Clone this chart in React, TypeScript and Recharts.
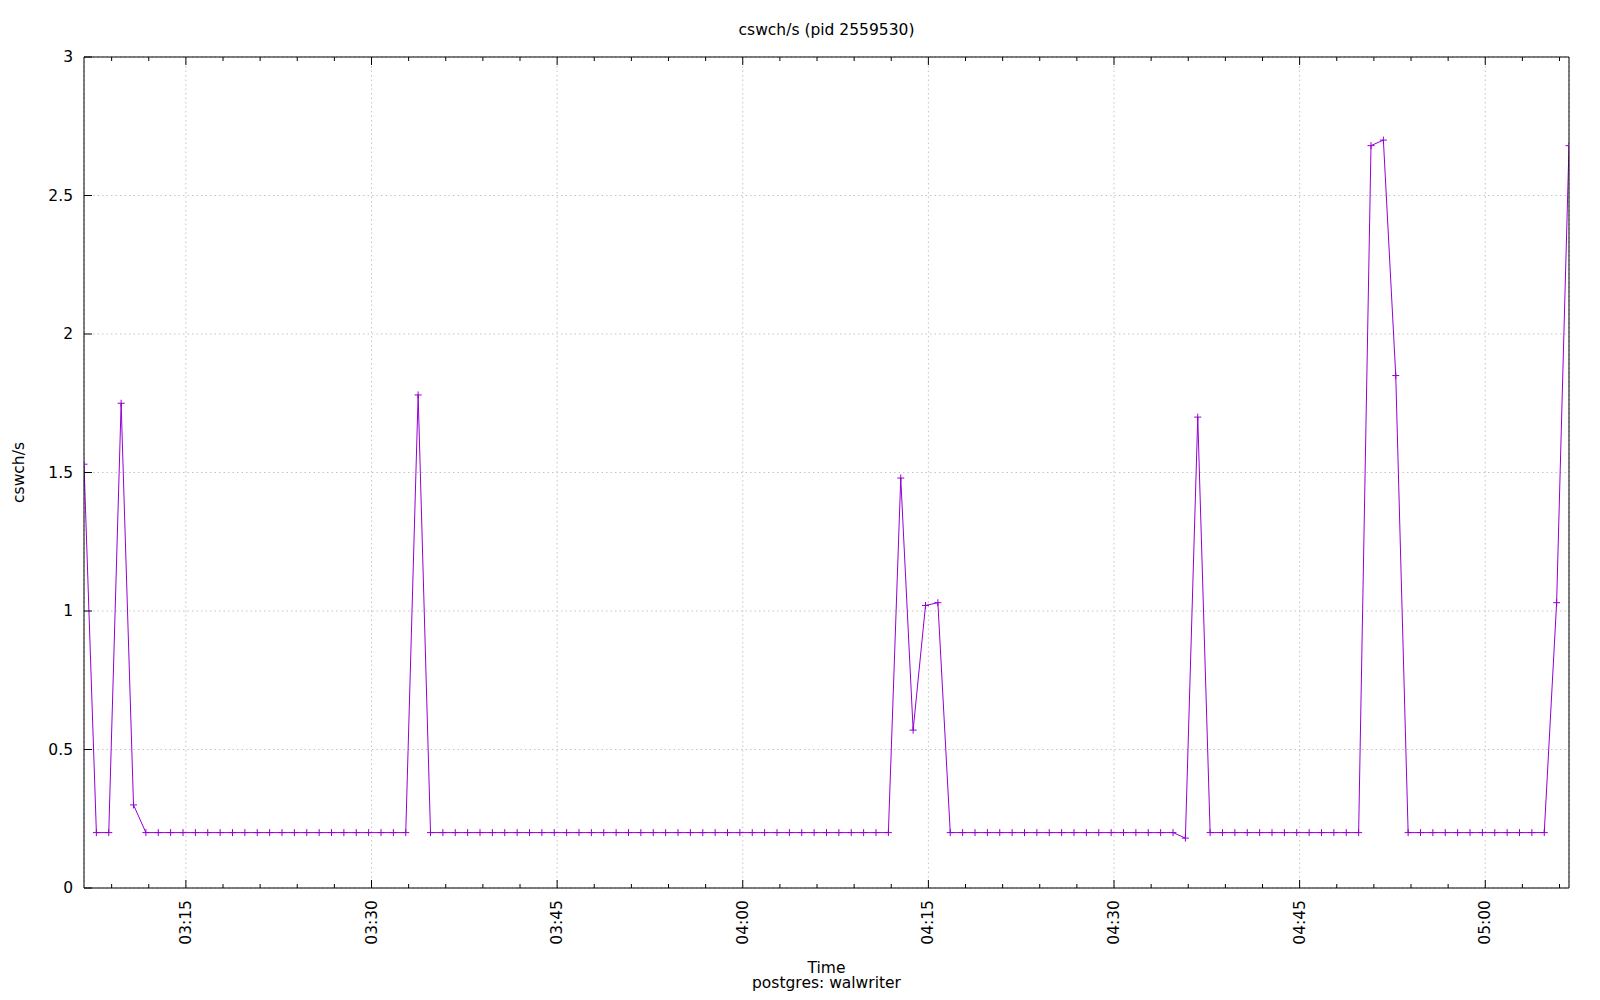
import React from 'react';
import { LineChart, Line, XAxis, YAxis, CartesianGrid } from 'recharts';

// sampling times (sar, one per minute)
const times = [
  '03:06:46', '03:07:46', '03:08:46', '03:09:46', '03:10:46', '03:11:46', '03:12:46', '03:13:46', '03:14:46', '03:15:46',
  '03:16:46', '03:17:46', '03:18:46', '03:19:46', '03:20:46', '03:21:46', '03:22:46', '03:23:46', '03:24:46', '03:25:46',
  '03:26:46', '03:27:46', '03:28:46', '03:29:46', '03:30:46', '03:31:46', '03:32:46', '03:33:46', '03:34:46', '03:35:46',
  '03:36:46', '03:37:46', '03:38:46', '03:39:46', '03:40:46', '03:41:46', '03:42:46', '03:43:46', '03:44:46', '03:45:46',
  '03:46:46', '03:47:46', '03:48:46', '03:49:46', '03:50:46', '03:51:46', '03:52:46', '03:53:46', '03:54:46', '03:55:46',
  '03:56:46', '03:57:46', '03:58:46', '03:59:46', '04:00:46', '04:01:46', '04:02:46', '04:03:46', '04:04:46', '04:05:46',
  '04:06:46', '04:07:46', '04:08:46', '04:09:46', '04:10:46', '04:11:46', '04:12:46', '04:13:46', '04:14:46', '04:15:46',
  '04:16:46', '04:17:46', '04:18:46', '04:19:46', '04:20:46', '04:21:46', '04:22:46', '04:23:46', '04:24:46', '04:25:46',
  '04:26:46', '04:27:46', '04:28:46', '04:29:46', '04:30:46', '04:31:46', '04:32:46', '04:33:46', '04:34:46', '04:35:46',
  '04:36:46', '04:37:46', '04:38:46', '04:39:46', '04:40:46', '04:41:46', '04:42:46', '04:43:46', '04:44:46', '04:45:46',
  '04:46:46', '04:47:46', '04:48:46', '04:49:46', '04:50:46', '04:51:46', '04:52:46', '04:53:46', '04:54:46', '04:55:46',
  '04:56:46', '04:57:46', '04:58:46', '04:59:46', '05:00:46', '05:01:46', '05:02:46', '05:03:46', '05:04:46', '05:05:46',
  '05:06:46',
];

const cswch = [
  1.53, 0.2, 0.2, 1.75, 0.3, 0.2, 0.2, 0.2, 0.2, 0.2,
  0.2, 0.2, 0.2, 0.2, 0.2, 0.2, 0.2, 0.2, 0.2, 0.2,
  0.2, 0.2, 0.2, 0.2, 0.2, 0.2, 0.2, 1.78, 0.2, 0.2,
  0.2, 0.2, 0.2, 0.2, 0.2, 0.2, 0.2, 0.2, 0.2, 0.2,
  0.2, 0.2, 0.2, 0.2, 0.2, 0.2, 0.2, 0.2, 0.2, 0.2,
  0.2, 0.2, 0.2, 0.2, 0.2, 0.2, 0.2, 0.2, 0.2, 0.2,
  0.2, 0.2, 0.2, 0.2, 0.2, 0.2, 1.48, 0.57, 1.02, 1.03,
  0.2, 0.2, 0.2, 0.2, 0.2, 0.2, 0.2, 0.2, 0.2, 0.2,
  0.2, 0.2, 0.2, 0.2, 0.2, 0.2, 0.2, 0.2, 0.2, 0.18,
  1.7, 0.2, 0.2, 0.2, 0.2, 0.2, 0.2, 0.2, 0.2, 0.2,
  0.2, 0.2, 0.2, 0.2, 2.68, 2.7, 1.85, 0.2, 0.2, 0.2,
  0.2, 0.2, 0.2, 0.2, 0.2, 0.2, 0.2, 0.2, 0.2, 1.03,
  2.68,
];

// x ticks in minutes after 03:00 (every 3 min, labelled every 15)
const xTicks = [
  9, 12, 15, 18, 21, 24, 27, 30, 33, 36, 39, 42, 45, 48, 51, 54, 57, 60, 63, 66,
  69, 72, 75, 78, 81, 84, 87, 90, 93, 96, 99, 102, 105, 108, 111, 114, 117, 120, 123, 126,
];
const majorTicks = [15, 30, 45, 60, 75, 90, 105, 120];
const yTicks = [0, 0.5, 1, 1.5, 2, 2.5, 3];

const FONT = 'DejaVu Sans';
const FS = 15.5;
const PURPLE = '#9400d3';

const toMinutes = (t: string) => {
  const [h, m, s] = t.split(':').map(Number);
  return (h - 3) * 60 + m + s / 60;
};

const data = times.map((t, i) => ({ t: toMinutes(t), v: cswch[i] }));
const xDomain = [data[0].t, data[data.length - 1].t];

const fmt = (v: number) => {
  const h = 3 + Math.floor(v / 60);
  const m = v % 60;
  return `${String(h).padStart(2, '0')}:${String(m).padStart(2, '0')}`;
};

const isMajor = (v: number) => majorTicks.includes(v);

const BottomTick = (p: any) => {
  const { x, y, payload } = p;
  const major = isMajor(payload.value);
  return (
    <g>
      <line x1={x} y1={y} x2={x} y2={y - (major ? 8 : 4)} stroke="#000" />
      {major && (
        <text
          x={x}
          y={y + 12}
          transform={`rotate(-90, ${x}, ${y + 12})`}
          textAnchor="end"
          dominantBaseline="central"
          fontFamily={FONT}
          fontSize={FS}
          fill="#000"
        >
          {fmt(payload.value)}
        </text>
      )}
    </g>
  );
};

const TopTick = (p: any) => {
  const { x, y, payload } = p;
  return <line x1={x} y1={y} x2={x} y2={y + (isMajor(payload.value) ? 8 : 4)} stroke="#000" />;
};

const LeftTick = (p: any) => {
  const { x, y, payload } = p;
  return (
    <g>
      <line x1={x} y1={y} x2={x + 8} y2={y} stroke="#000" />
      <text
        x={x - 11}
        y={y}
        textAnchor="end"
        dominantBaseline="central"
        fontFamily={FONT}
        fontSize={FS}
        fill="#000"
      >
        {String(payload.value)}
      </text>
    </g>
  );
};

const RightTick = (p: any) => {
  const { x, y } = p;
  return <line x1={x} y1={y} x2={x - 8} y2={y} stroke="#000" />;
};

const PlusDot = (p: any) => {
  const { cx, cy, index } = p;
  if (cx == null || cy == null) return <g key={index} />;
  return (
    <path
      key={index}
      d={`M${cx - 3.5},${cy}h7M${cx},${cy - 3.5}v7`}
      stroke={PURPLE}
      strokeWidth={1}
      fill="none"
    />
  );
};

const XLabel = (p: any) => {
  const vb = p.viewBox || { x: 84, y: 888, width: 1485 };
  const cx = vb.x + vb.width / 2;
  return (
    <g fontFamily={FONT} fontSize={FS} fill="#000">
      <text x={cx} y={vb.y + 85} textAnchor="middle">
        Time
      </text>
      <text x={cx} y={vb.y + 100} textAnchor="middle">
        postgres: walwriter
      </text>
    </g>
  );
};

const YLabel = (p: any) => {
  const vb = p.viewBox || { x: 0, y: 57, height: 831 };
  const x = vb.x + 24;
  const y = vb.y + vb.height / 2;
  return (
    <text
      x={x}
      y={y}
      transform={`rotate(-90, ${x}, ${y})`}
      textAnchor="middle"
      fontFamily={FONT}
      fontSize={FS}
      fill="#000"
    >
      cswch/s
    </text>
  );
};

export default function App() {
  return (
    <div style={{ position: 'absolute', left: 0, top: 0, width: 1600, height: 1000, background: '#fff' }}>
      <div
        style={{
          position: 'absolute',
          left: 84,
          top: 20,
          width: 1485,
          textAlign: 'center',
          fontFamily: FONT,
          fontSize: FS,
          lineHeight: '20px',
          color: '#000',
        }}
      >
        cswch/s (pid 2559530)
      </div>
      <LineChart width={1600} height={1000} data={data} margin={{ top: 0, right: 0, bottom: 0, left: 0 }}>
        <CartesianGrid stroke="#c4c4c4" strokeDasharray="1.5 3" xAxisId="grid" fill="none" />
        <XAxis
          dataKey="t"
          type="number"
          scale="linear"
          domain={xDomain}
          allowDataOverflow
          ticks={xTicks}
          interval={0}
          height={112}
          tickSize={0}
          tickMargin={0}
          tick={<BottomTick />}
          axisLine={{ stroke: '#000', strokeWidth: 1 }}
          tickLine={false}
          label={<XLabel />}
        />
        <XAxis
          xAxisId="top"
          orientation="top"
          dataKey="t"
          type="number"
          scale="linear"
          domain={xDomain}
          allowDataOverflow
          ticks={xTicks}
          interval={0}
          height={57}
          tickSize={0}
          tickMargin={0}
          tick={<TopTick />}
          axisLine={{ stroke: '#000', strokeWidth: 1 }}
          tickLine={false}
        />
        <XAxis
          xAxisId="grid"
          hide
          dataKey="t"
          type="number"
          scale="linear"
          domain={xDomain}
          allowDataOverflow
          ticks={majorTicks}
          interval={0}
        />
        <YAxis
          domain={[0, 3]}
          ticks={yTicks}
          interval={0}
          width={84}
          tickSize={0}
          tickMargin={0}
          tick={<LeftTick />}
          axisLine={{ stroke: '#000', strokeWidth: 1 }}
          tickLine={false}
          label={<YLabel />}
        />
        <YAxis
          yAxisId="r"
          orientation="right"
          domain={[0, 3]}
          ticks={yTicks}
          interval={0}
          width={31}
          tickSize={0}
          tickMargin={0}
          tick={<RightTick />}
          axisLine={{ stroke: '#000', strokeWidth: 1 }}
          tickLine={false}
        />
        <Line
          type="linear"
          dataKey="v"
          stroke={PURPLE}
          strokeWidth={1}
          dot={PlusDot}
          activeDot={false}
          isAnimationActive={false}
        />
      </LineChart>
    </div>
  );
}
